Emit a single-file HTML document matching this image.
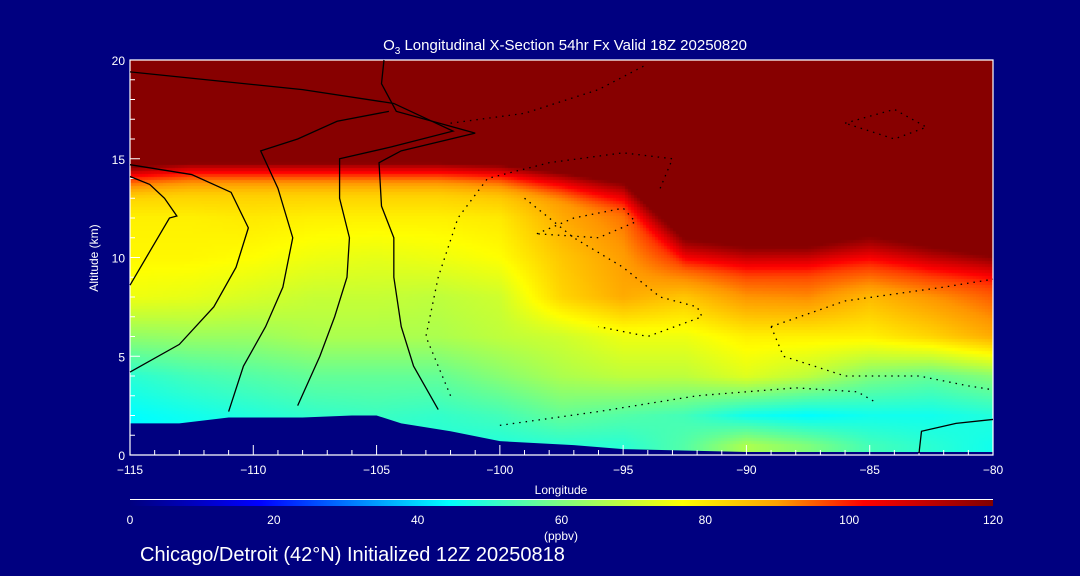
<!DOCTYPE html>
<html><head><meta charset="utf-8"><style>
html,body{margin:0;padding:0;background:#000080;}
#wrap{position:relative;width:1080px;height:576px;background:#000080;overflow:hidden;font-family:"Liberation Sans",sans-serif;color:#fff;}
canvas{position:absolute;left:130px;top:60px;}
svg{position:absolute;left:0;top:0;}
</style></head><body>
<div id="wrap">
<canvas id="cv" width="863" height="395"></canvas>
<svg id="sv" width="1080" height="576">
<defs><linearGradient id="cbg" x1="0" x2="1" y1="0" y2="0">
<stop offset="0" stop-color="#000080"/><stop offset="0.15" stop-color="#0000ff"/><stop offset="0.37" stop-color="#00ffff"/><stop offset="0.5" stop-color="#80ff80"/><stop offset="0.64" stop-color="#ffff00"/><stop offset="0.75" stop-color="#ffa000"/><stop offset="0.85" stop-color="#ff0000"/><stop offset="1" stop-color="#800000"/></linearGradient></defs>
<polygon id="terrain" fill="#000080"/>
<text x="565" y="50" font-size="15" fill="#fff" text-anchor="middle" font-family="Liberation Sans, sans-serif">O<tspan font-size="10" dy="4">3</tspan><tspan dy="-4"> Longitudinal X-Section 54hr  Fx Valid 18Z 20250820</tspan></text>
<text x="98" y="258" font-size="12" fill="#fff" text-anchor="middle" transform="rotate(-90 98 258)">Altitude (km)</text>
<text x="561" y="494" font-size="12" fill="#fff" text-anchor="middle">Longitude</text>
<rect x="130" y="500" width="863" height="6" fill="url(#cbg)"/>
<line x1="130" y1="499.5" x2="993" y2="499.5" stroke="#fff"/>
<text x="561" y="540" font-size="12" fill="#fff" text-anchor="middle">(ppbv)</text>
<text x="140" y="561" font-size="20" fill="#fff">Chicago/Detroit (42°N) Initialized 12Z 20250818</text>
<g id="ax"></g><g id="ct"></g>
</svg>
</div>
<script>
const lons=[-115,-112.5,-110,-107.5,-105,-102.5,-100,-97.5,-95,-92.5,-90,-87.5,-85,-82.5,-80];
const tropo=[14.6,14.8,14.8,14.8,14.8,14.8,14.7,14.3,13.8,11.0,10.6,10.6,11.2,10.6,10.1];
const alts=[0.5,2,4,6,8,10,12,13.5];
const z0=[38,40,42,44,44,44,44,45,45,50,60,55,48,45,42];
const z2=[40,42,44,46,47,46,48,52,50,48,42,40,42,42,44];
const z4=[45,48,50,52,52,52,56,60,62,62,66,62,55,52,56];
const z6=[57,58,58,60,60,60,62,64,68,68,72,72,72,76,82];
const z8=[68,67,65,63,63,62,64,76,82,78,85,86,80,85,90];
const z10=[71,71,70,68,67,68,70,78,84,95,98,97,97,100,100];
const z12=[72,72,73,72,72,72,73,82,88,110,115,115,115,115,115];
const z13=[78,78,78,78,78,78,80,86,95,115,115,115,115,115,115];
const terrLon=[-115,-113,-111,-108,-106,-105,-104,-102,-100,-97,-95,-90,-85,-80];
const terrH=[1.6,1.6,1.9,1.9,2.0,2.0,1.6,1.2,0.7,0.5,0.3,0.15,0.15,0.15];
const xTicks=[-115,-110,-105,-100,-95,-90,-85,-80];
const yTicks=[0,5,10,15,20];
const cbTicks=[0,20,40,60,80,100,120];
const rows=[z0,z2,z4,z6,z8,z10,z12,z13];
const X=l=>130+(l+115)*863/35, Y=z=>455-z*395/20;
const NS='http://www.w3.org/2000/svg';
function interp(xs,ys,x){if(x<=xs[0])return ys[0];for(let i=1;i<xs.length;i++){if(x<=xs[i]){const t=(x-xs[i-1])/(xs[i]-xs[i-1]);return ys[i-1]+t*(ys[i]-ys[i-1]);}}return ys[ys.length-1];}
const stops=[[0,[0,0,128]],[15,[0,0,255]],[40,[0,255,255]],[52,[100,255,150]],[62,[190,255,60]],[70,[255,255,0]],[85,[255,150,0]],[98,[255,0,0]],[115,[135,0,0]]];
function col(v){if(v>=115)return stops[8][1];for(let i=1;i<stops.length;i++){if(v<=stops[i][0]){const a=stops[i-1],b=stops[i],t=(v-a[0])/(b[0]-a[0]);return a[1].map((c,k)=>Math.round(c+t*(b[1][k]-c)));}}return stops[0][1];}
function val(lon,z){const tp=interp(lons,tropo,lon);if(z>=tp)return 120;
 const prof=rows.map(r=>interp(lons,r,lon));let v=interp(alts,prof,z);
 if(z>tp-1.8){const t=(z-(tp-1.8))/1.8;v=v+(t*t)*(116-v);}return v;}
const cv=document.getElementById('cv'),cx=cv.getContext('2d');
const S=3;
for(let px=0;px<863;px+=S){for(let py=0;py<395;py+=S){
 const lon=-115+(px+S/2)*35/863, z=(395-py-S/2)*20/395;
 const c=col(val(lon,z));cx.fillStyle='rgb('+c.join(',')+')';cx.fillRect(px,py,S,S);}}
document.getElementById('terrain').setAttribute('points',
 terrLon.map((l,i)=>X(l)+','+Y(terrH[i])).join(' ')+' '+X(-80)+','+Y(0)+' '+X(-115)+','+Y(0));
const ax=document.getElementById('ax');
function el(t,a,p){const e=document.createElementNS(NS,t);for(const k in a)e.setAttribute(k,a[k]);(p||ax).appendChild(e);return e;}
const fr=el('path',{d:`M130 60H993V455H130Z`,fill:'none',stroke:'#fff','stroke-width':1.2});


for(let l=-115;l<=-80;l++){const big=l%5===0;el('line',{x1:X(l),x2:X(l),y1:455,y2:455-(big?10:5),stroke:'#fff'});}
for(let z=0;z<=20;z++){const big=z%5===0;el('line',{x1:130,x2:130+(big?10:5),y1:Y(z),y2:Y(z),stroke:'#fff'});}
xTicks.forEach(l=>{const t=el('text',{x:X(l),y:474,'font-size':12,fill:'#fff','text-anchor':'middle'});t.textContent=(l<0?'−':'')+Math.abs(l);

});
yTicks.forEach(z=>{const t=el('text',{x:125,y:Y(z)+5,'font-size':12,fill:'#fff','text-anchor':'end'});t.textContent=z;

});
cbTicks.forEach(v=>{const t=el('text',{x:130+v*863/120,y:524,'font-size':12,fill:'#fff','text-anchor':'middle'});t.textContent=v;

});
const solidLines=[
 [[-115,8.6],[-114.2,10.3],[-113.4,12],[-113.1,12.1],[-113.6,13],[-114.2,13.7],[-115,14.1]],
 [[-115,4.2],[-113,5.6],[-111.6,7.5],[-110.7,9.5],[-110.2,11.5],[-110.9,13.3],[-112.5,14.2],[-115,14.7]],
 [[-111,2.2],[-110.4,4.5],[-109.5,6.5],[-108.8,8.5],[-108.4,11],[-109,13.5],[-109.7,15.4],[-108.2,16],[-106.6,16.9],[-104.5,17.4]],
 [[-108.2,2.5],[-107.3,5],[-106.7,7],[-106.2,9],[-106.1,11],[-106.5,13],[-106.5,15],[-104.4,15.6],[-101.9,16.4],[-104.3,17.8],[-108,18.5],[-115,19.4]],
 [[-102.5,2.3],[-103.5,4.5],[-104,6.5],[-104.3,9],[-104.3,11],[-104.8,12.6],[-104.9,14.8],[-104,15.4],[-101,16.3],[-104.2,17.4],[-104.8,18.8],[-104.7,20]],
 [[-83,0.1],[-82.9,1.2],[-81.5,1.6],[-80,1.8]]
];
const dotLines=[
 [[-102,3],[-103,6],[-102.5,9],[-101.7,12],[-100.5,14],[-98,14.8],[-95,15.3],[-93,15],[-93.5,13.5]],
 [[-98.5,11.2],[-97,12],[-95,12.5],[-94.5,11.8],[-96,11],[-98.5,11.2]],
 [[-99,13],[-97,11],[-95,9.5],[-93.5,8],[-92,7.5],[-91.8,7],[-94,6],[-96,6.5]],
 [[-89,6.5],[-86,7.8],[-82,8.5],[-80,8.9]],
 [[-89,6.5],[-88.5,5],[-86,4],[-83,4],[-81,3.5],[-80,3.3]],
 [[-100,1.5],[-96,2.2],[-92,3],[-88,3.4],[-85.5,3.2],[-84.8,2.7]],
 [[-86,16.8],[-84,17.5],[-82.7,16.6],[-84,16],[-86,16.8]],
 [[-102,16.8],[-99,17.3],[-96,18.5],[-94,19.8]]
];
const ct=document.getElementById('ct');
solidLines.forEach(pts=>{const p=el('polyline',{points:pts.map(q=>X(q[0])+','+Y(q[1])).join(' '),fill:'none',stroke:'#000','stroke-width':1.3},ct);

});
dotLines.forEach(pts=>{const p=el('polyline',{points:pts.map(q=>X(q[0])+','+Y(q[1])).join(' '),fill:'none',stroke:'#000','stroke-width':1.3,'stroke-dasharray':'1.5 5'},ct);

});
</script>
</body></html>
